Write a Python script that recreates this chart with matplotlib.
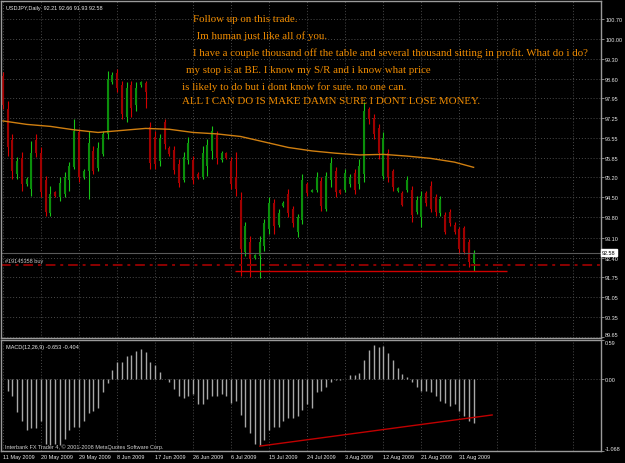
import matplotlib
matplotlib.use('Agg')
import matplotlib.pyplot as plt
import matplotlib.transforms as mtransforms
import numpy as np

# daily USDJPY bars (one per bar, left to right)
opens = [98.70, 97.55, 96.50, 95.30, 95.85, 94.95, 94.80, 96.50, 96.05, 95.10,
         93.95, 94.68, 94.50, 94.60, 95.10, 95.55, 96.75, 95.20, 95.40, 96.10,
         95.50, 96.00, 96.70, 98.50, 98.80, 98.40, 97.30, 98.40, 97.70, 98.38,
         98.45, 96.95, 96.60, 95.75, 97.10, 96.20, 96.15, 95.65, 95.10, 95.80,
         95.80, 95.32, 95.20, 95.60, 96.10, 96.65, 95.80, 96.02, 95.75, 95.20,
         94.40, 92.60, 92.95, 92.40, 92.45, 92.80, 93.40, 94.30, 93.55, 94.20,
         94.60, 94.10, 93.30, 93.70, 94.95, 94.70, 94.75, 95.05, 94.10, 95.10,
         95.40, 94.75, 94.75, 94.95, 95.35, 94.95, 95.30, 97.55, 97.25, 96.90,
         95.25, 96.05, 95.40, 94.72, 94.65, 94.75, 94.75, 94.00, 93.80, 94.65,
         94.90, 94.50, 93.95, 93.90, 94.00, 93.55, 93.40, 93.45, 92.95, 92.21]
highs = [98.85, 97.84, 96.70, 95.90, 96.07, 95.21, 96.45, 96.70, 96.25, 95.24,
         94.89, 94.72, 95.21, 95.38, 95.73, 97.22, 96.87, 95.48, 96.80, 96.28,
         96.42, 96.80, 98.89, 98.85, 98.95, 98.54, 98.50, 98.54, 98.50, 98.54,
         98.54, 97.12, 96.80, 96.70, 97.22, 96.28, 96.28, 95.83, 96.07, 96.60,
         95.93, 95.38, 96.28, 96.53, 96.98, 96.80, 96.11, 96.07, 95.90, 96.07,
         94.69, 93.65, 93.16, 92.54, 93.16, 93.75, 94.52, 94.44, 94.10, 94.37,
         94.79, 94.20, 93.92, 95.31, 95.03, 94.79, 95.38, 95.21, 95.38, 95.90,
         95.55, 94.79, 95.48, 95.31, 95.48, 95.83, 97.81, 97.64, 97.39, 97.05,
         96.77, 96.18, 95.48, 94.86, 94.72, 95.24, 94.89, 94.55, 94.72, 94.72,
         95.07, 94.62, 94.55, 93.99, 94.10, 93.65, 93.47, 93.51, 93.06, 92.66]
lows = [97.57, 95.93, 95.14, 95.14, 94.72, 94.89, 94.55, 95.90, 94.52, 93.85,
        93.85, 94.52, 94.38, 94.52, 94.72, 95.48, 95.03, 95.14, 94.44, 95.31,
        95.41, 95.93, 96.53, 98.43, 98.15, 97.22, 97.12, 97.29, 97.50, 98.33,
        97.60, 95.48, 95.48, 95.59, 96.18, 95.93, 95.31, 94.86, 95.03, 95.66,
        94.96, 95.14, 95.14, 95.24, 95.83, 95.66, 95.73, 95.83, 94.79, 94.55,
        91.77, 92.47, 91.74, 92.36, 91.70, 92.64, 93.23, 93.23, 93.47, 94.17,
        93.82, 93.47, 93.13, 93.58, 94.55, 94.69, 94.69, 94.03, 94.03, 94.86,
        94.52, 94.62, 94.69, 94.86, 94.62, 94.79, 95.03, 97.05, 96.53, 95.83,
        95.14, 95.03, 94.72, 94.69, 94.20, 94.69, 93.65, 93.92, 93.47, 94.20,
        93.99, 93.85, 93.85, 93.23, 93.51, 93.23, 92.54, 92.54, 92.09, 91.93]
closes = [97.70, 96.25, 95.40, 95.75, 94.95, 95.15, 96.05, 96.05, 94.70, 94.00,
          94.60, 94.55, 95.00, 95.20, 95.60, 96.80, 95.20, 95.42, 96.40, 95.40,
          96.20, 96.70, 98.60, 98.75, 98.30, 97.40, 98.30, 97.60, 98.30, 98.50,
          98.15, 95.70, 95.65, 96.55, 96.35, 96.00, 95.45, 95.00, 95.90, 96.40,
          95.10, 95.20, 96.05, 96.30, 96.80, 95.85, 96.05, 95.88, 94.95, 94.80,
          92.70, 93.50, 92.35, 92.50, 92.95, 93.60, 94.30, 93.50, 93.95, 94.32,
          93.95, 93.60, 93.80, 95.10, 94.65, 94.76, 95.20, 94.20, 95.25, 95.70,
          94.70, 94.66, 95.35, 95.20, 94.75, 95.60, 97.50, 97.20, 96.70, 96.05,
          96.55, 95.20, 94.85, 94.82, 94.25, 95.10, 93.90, 94.40, 94.55, 94.30,
          94.10, 94.00, 94.45, 93.30, 93.60, 93.30, 92.70, 92.60, 92.25, 92.58]

# moving average, sampled at a few bars
ma_bars = [0, 5, 10, 15, 20, 25, 30, 35, 40, 45, 50, 55, 60, 65, 70, 75, 80, 85, 90, 95, 99]
ma_vals = [97.15, 97.03, 96.96, 96.84, 96.75, 96.82, 96.89, 96.86, 96.75, 96.70,
           96.61, 96.42, 96.23, 96.11, 96.03, 95.97, 95.99, 95.93, 95.85, 95.72, 95.54]

# MACD(12,26,9) histogram, bars 1..99
macd = [-0.168, -0.245, -0.490, -0.627, -0.755, -0.729, -0.729, -0.627, -0.959, -0.984,
        -0.959, -0.984, -0.882, -0.755, -0.704, -0.704, -0.627, -0.500, -0.474, -0.423,
        -0.194, -0.056, 0.138, 0.265, 0.265, 0.357, 0.367, 0.428, 0.459, 0.418,
        0.265, 0.214, 0.112, 0.010, -0.041, -0.143, -0.245, -0.270, -0.245, -0.219,
        -0.372, -0.372, -0.296, -0.245, -0.245, -0.219, -0.245, -0.347, -0.321, -0.525,
        -0.704, -0.806, -0.959, -0.984, -0.908, -0.755, -0.704, -0.704, -0.627, -0.576,
        -0.576, -0.551, -0.449, -0.372, -0.423, -0.194, -0.168, -0.117, -0.031, -0.015,
        -0.015, 0.010, 0.061, 0.061, 0.097, 0.291, 0.444, 0.520, 0.485, 0.495,
        0.393, 0.291, 0.173, 0.087, 0.036, -0.041, -0.117, -0.168, -0.168, -0.194,
        -0.245, -0.321, -0.347, -0.398, -0.372, -0.474, -0.551, -0.627, -0.653]

date_labels = ['11 May 2009', '20 May 2009', '29 May 2009', '8 Jun 2009', '17 Jun 2009',
               '26 Jun 2009', '6 Jul 2009', '15 Jul 2009', '24 Jul 2009', '3 Aug 2009',
               '12 Aug 2009', '21 Aug 2009', '31 Aug 2009']
price_ticks = [89.65, 90.35, 91.05, 91.75, 92.40, 93.10, 93.80, 94.50, 95.20, 95.85,
               96.55, 97.25, 97.95, 98.60, 99.30, 100.00, 100.70]
note_lines = ['Follow up on this trade.',
              ' Im human just like all of you.',
              'I have a couple thousand off the table and several thousand sitting in profit. What do i do?',
              'my stop is at BE. I know my S/R and i know what price',
              'is likely to do but i dont know for sure. no one can.',
              'ALL I CAN DO IS MAKE DAMN SURE I DONT LOSE MONEY.']
note_x = [193, 194, 193, 186, 182, 182]
note_y = [20, 36, 53, 70.5, 87.5, 102]
order_price = 92.15
stop_price = 91.93
bid = 92.58

ui_font = ['Liberation Sans', 'DejaVu Sans']
bg = 'black'
frame = '#9a9a9a'
grid_c = '#4a4a4a'
txt_c = '#e8e8e8'

fig = plt.figure(figsize=(6.25, 4.64), dpi=100, facecolor=bg)
ax = fig.add_axes([0.0024, 0.2694, 0.9592, 0.7263], facecolor=bg)
ax2 = fig.add_axes([0.0024, 0.0259, 0.9592, 0.2392], facecolor=bg, sharex=ax)

n = len(opens)
idx = np.arange(n)
o = np.array(opens); c = np.array(closes)
up = c >= o
wick_cols = np.where(up, '#17c417', '#d40000')
body_cols = np.where(up, '#0b8f0b', '#a00000')
ax.vlines(idx, lows, highs, colors=wick_cols, lw=0.8)
ax.vlines(idx, np.minimum(o, c), np.maximum(o, c), colors=body_cols, lw=1.5)
ax.plot(ma_bars, ma_vals, color='#d07f10', lw=1.0)

ax.axhline(bid, color='#5a5a5a', lw=0.8)
ax.axhline(order_price, color='#8c0000', lw=1.4, linestyle=(0, (5, 2.5, 1.5, 2.5)))
ax.hlines(stop_price, 48.9, 106.1, color='#d00000', lw=1.0)

ax.set_xlim(-0.3, 125.8)
ax.set_ylim(89.62, 101.31)

trans = mtransforms.blended_transform_factory(ax.transAxes, ax.transData)
ax.text(0.006, order_price + 0.06, '#19145358 buy', transform=trans, fontsize=4,
        color='#c8c8c8', family=ui_font, va='bottom')
ax.text(1.002, bid, '92.58', transform=trans, fontsize=4, color='black', family=ui_font,
        va='center', ha='left',
        bbox=dict(boxstyle='square,pad=0.15', fc='white', ec='white'))

ax.text(4 / 599, 1 - 7 / 337, 'USDJPY,Daily  92.21 92.66 91.93 92.58', transform=ax.transAxes,
        fontsize=4, color=txt_c, family=ui_font, va='center')

for k, line in enumerate(note_lines):
    ax.text((note_x[k] - 1.5) / 599, 1 - (note_y[k] - 2) / 337, line, transform=ax.transAxes,
            fontsize=7.8, color='#f08c00', family=['Liberation Serif', 'DejaVu Serif'],
            va='center', ha='left')

ax.set_yticks(price_ticks)
ax.set_yticklabels(['%.2f' % v for v in price_ticks])
ax.yaxis.tick_right()
ax.tick_params(axis='y', colors=frame, labelcolor=txt_c, labelsize=4, length=2, width=0.6, pad=1)
ax.tick_params(axis='x', length=0, labelbottom=False)
for lab in ax.get_yticklabels():
    lab.set_family(ui_font)
ax.get_yticklabels()[0].set_verticalalignment('bottom')

grid_ticks = list(range(0, 128, 8))
ax.set_xticks(grid_ticks)
for a in (ax, ax2):
    a.grid(True, color=grid_c, linestyle=(0, (1, 2)), lw=0.7)
    for s in a.spines.values():
        s.set_color(frame)
        s.set_linewidth(1.0)

# MACD subwindow
ax2.vlines(np.arange(1, len(macd) + 1), 0, macd, colors='#a8a8a8', lw=1.0)
ax2.plot([54.05, 102.9], [-0.995, -0.53], color='#c00000', lw=1.0)
ax2.set_ylim(-1.068, 0.59)
ax2.set_yticks([-1.068, 0.0, 0.59])
ax2.set_yticklabels(['-1.068', '0.00', '0.59'])
ax2.yaxis.tick_right()
ax2.yaxis.grid(True, color=grid_c, linestyle=(0, (1, 2)), lw=0.7)
ax2.tick_params(axis='y', colors=frame, labelcolor=txt_c, labelsize=4, length=2, width=0.6, pad=1)
ax2.set_xticks(grid_ticks)
ax2.set_xticklabels(date_labels + [''] * (len(grid_ticks) - len(date_labels)),
                    family=ui_font)
ax2.tick_params(axis='x', colors=frame, labelcolor=txt_c, labelsize=4, length=0, pad=2)
for lab in ax2.get_xticklabels():
    lab.set_horizontalalignment('left')
ylabs = ax2.get_yticklabels()
for lab in ylabs:
    lab.set_family(ui_font)
ylabs[0].set_verticalalignment('bottom')
ylabs[2].set_verticalalignment('top')

ax2.text(4 / 599, 0.94, 'MACD(12,26,9) -0.653 -0.404', transform=ax2.transAxes,
         fontsize=4, color=txt_c, family=ui_font, va='center')
ax2.text(3 / 599, 0.04, 'Interbank FX Trader 4, \u00a9 2001-2008 MetaQuotes Software Corp.',
         transform=ax2.transAxes, fontsize=4, color='#cfcfcf', family=ui_font, va='center')

fig.savefig('out.png', dpi=100, facecolor=bg)
